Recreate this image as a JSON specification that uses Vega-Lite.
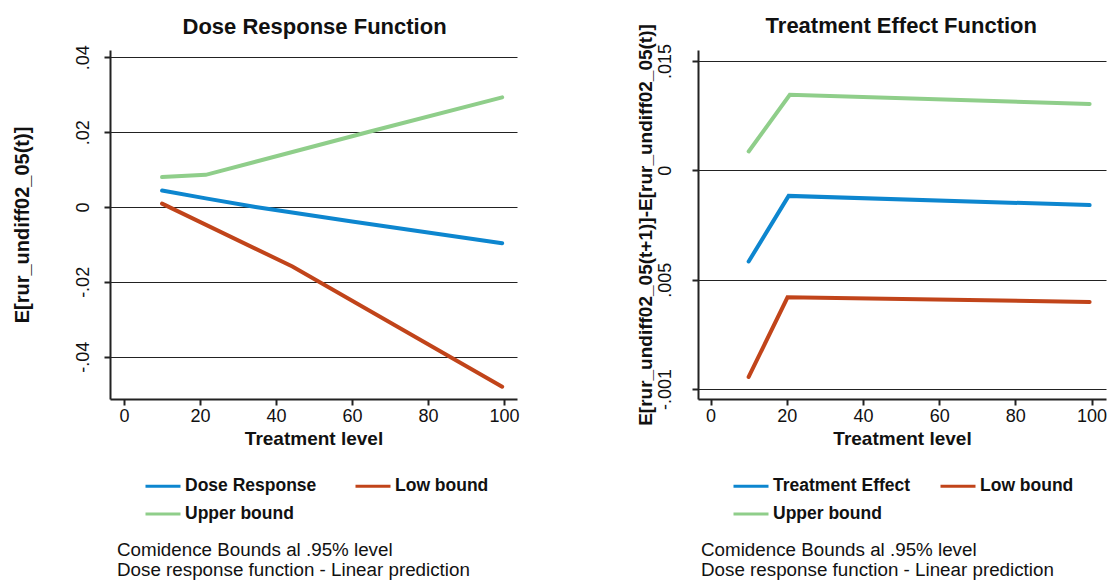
{
  "$schema": "https://vega.github.io/schema/vega-lite/v6.json",
  "background": "white",
  "padding": {"left": 12, "top": 14, "right": 4, "bottom": 2},
  "datasets": {
    "dose": [
      {"series": "Dose Response", "t": 10, "v": 0.0044},
      {"series": "Dose Response", "t": 21.5, "v": 0.0023},
      {"series": "Dose Response", "t": 34.6, "v": 0.0},
      {"series": "Dose Response", "t": 60, "v": -0.0039},
      {"series": "Dose Response", "t": 99.5, "v": -0.0097},
      {"series": "Low bound", "t": 10, "v": 0.0009},
      {"series": "Low bound", "t": 44.3, "v": -0.0159},
      {"series": "Low bound", "t": 99.5, "v": -0.048},
      {"series": "Upper bound", "t": 10, "v": 0.0080},
      {"series": "Upper bound", "t": 21.5, "v": 0.0086},
      {"series": "Upper bound", "t": 64.5, "v": 0.0201},
      {"series": "Upper bound", "t": 99.5, "v": 0.0293}
    ],
    "effect": [
      {"series": "Treatment Effect", "t": 10, "v": 0.00583},
      {"series": "Treatment Effect", "t": 20.5, "v": 0.00883},
      {"series": "Treatment Effect", "t": 99.5, "v": 0.00841},
      {"series": "Low bound", "t": 10, "v": 0.00055},
      {"series": "Low bound", "t": 20.2, "v": 0.00419},
      {"series": "Low bound", "t": 99.5, "v": 0.00398},
      {"series": "Upper bound", "t": 10, "v": 0.01086},
      {"series": "Upper bound", "t": 20.8, "v": 0.01345},
      {"series": "Upper bound", "t": 99.5, "v": 0.01303}
    ]
  },
  "config": {
    "font": "Liberation Sans, Arial, sans-serif",
    "view": {"stroke": null},
    "axis": {
      "domainColor": "#222",
      "domainWidth": 2,
      "tickColor": "#222",
      "tickWidth": 2,
      "tickSize": 6,
      "labelFont": "Liberation Sans, Arial, sans-serif",
      "labelFontSize": 18,
      "labelColor": "#111",
      "titleFont": "Liberation Sans, Arial, sans-serif",
      "titleFontSize": 19,
      "titleFontWeight": "bold",
      "titleColor": "#111",
      "gridColor": "#222",
      "gridWidth": 1
    },
    "legend": {
      "orient": "none",
      "legendX": 34,
      "legendY": 417,
      "direction": "horizontal",
      "columns": 2,
      "title": null,
      "symbolType": "stroke",
      "symbolSize": 1225,
      "symbolStrokeWidth": 3,
      "labelFont": "Liberation Sans, Arial, sans-serif",
      "labelFontSize": 17.5,
      "labelFontWeight": "bold",
      "labelColor": "#111",
      "labelOffset": 3,
      "labelLimit": 400,
      "columnPadding": 32,
      "rowPadding": -8
    },
    "title": {
      "font": "Liberation Sans, Arial, sans-serif",
      "fontSize": 22,
      "fontWeight": "bold",
      "color": "#111"
    },
    "concat": {"spacing": 115}
  },
  "hconcat": [
    {
      "title": {"text": "Dose Response Function", "anchor": "middle", "dx": 49, "offset": 6},
      "vconcat": [
        {
          "title": {
            "text": ["Comidence Bounds al .95% level", "Dose response function - Linear prediction"],
            "orient": "bottom",
            "anchor": "start",
            "frame": "group",
            "fontSize": 18.8,
            "fontWeight": "normal",
            "lineHeight": 20,
            "dx": 7,
            "offset": 18
          },
          "width": 407,
          "height": 349,
          "data": {"name": "dose"},
          "mark": {"type": "line", "strokeWidth": 4, "strokeCap": "round"},
          "encoding": {
            "x": {
              "field": "t", "type": "quantitative",
              "scale": {"domain": [-3.7, 103.4], "nice": false, "zero": false},
              "axis": {"values": [0, 20, 40, 60, 80, 100], "grid": false, "title": "Treatment level", "labelPadding": 2, "titlePadding": 4}
            },
            "y": {
              "field": "v", "type": "quantitative",
              "scale": {"domain": [-0.0513, 0.04195], "nice": false, "zero": false},
              "axis": {
                "values": [-0.04, -0.02, 0, 0.02, 0.04],
                "labelExpr": "datum.value == 0 ? '0' : replace(replace(format(datum.value, '.2f'), '0.', '.'), '\u2212', '-')",
                "labelAngle": 270,
                "labelAlign": "center",
                "labelBaseline": "bottom",
                "labelPadding": 12,
                "grid": true,
                "title": "E[rur_undiff02_05(t)]",
                "titleFontSize": 20,
                "titlePadding": 42
              }
            },
            "color": {
              "field": "series", "type": "nominal",
              "scale": {"domain": ["Dose Response", "Low bound", "Upper bound"], "range": ["#0d86cf", "#c1441a", "#8fce8a"]},
              "legend": {"columnPadding": 32}
            }
          }
        }
      ],
      "resolve": {"scale": {"color": "independent"}, "legend": {"color": "independent"}}
    },
    {
      "title": {"text": "Treatment Effect Function", "anchor": "middle", "dx": 30, "offset": -14},
      "vconcat": [
        {
          "title": {
            "text": ["Comidence Bounds al .95% level", "Dose response function - Linear prediction"],
            "orient": "bottom",
            "anchor": "start",
            "frame": "group",
            "fontSize": 18.8,
            "fontWeight": "normal",
            "lineHeight": 20,
            "dx": 3,
            "offset": 18
          },
          "width": 408,
          "height": 349,
          "data": {"name": "effect"},
          "mark": {"type": "line", "strokeWidth": 4, "strokeCap": "round"},
          "encoding": {
            "x": {
              "field": "t", "type": "quantitative",
              "scale": {"domain": [-3.3, 103.8], "nice": false, "zero": false},
              "axis": {"values": [0, 20, 40, 60, 80, 100], "grid": false, "title": "Treatment level", "labelPadding": 2, "titlePadding": 4}
            },
            "y": {
              "field": "v", "type": "quantitative",
              "scale": {"domain": [-0.000457, 0.0155], "nice": false, "zero": false},
              "axis": {
                "values": [0, 0.005, 0.01, 0.015],
                "labelExpr": "datum.value > 0.012 ? '.015' : datum.value > 0.007 ? '0' : datum.value > 0.002 ? '.005' : '-.001'",
                "labelAngle": 270,
                "labelAlign": "center",
                "labelBaseline": "bottom",
                "labelPadding": 18,
                "grid": true,
                "title": "E[rur_undiff02_05(t+1)]-E[rur_undiff02_05(t)]",
                "titleFontSize": 19,
                "titlePadding": 1
              }
            },
            "color": {
              "field": "series", "type": "nominal",
              "scale": {"domain": ["Treatment Effect", "Low bound", "Upper bound"], "range": ["#0d86cf", "#c1441a", "#8fce8a"]},
              "legend": {"columnPadding": 23}
            }
          }
        }
      ],
      "resolve": {"scale": {"color": "independent"}, "legend": {"color": "independent"}}
    }
  ],
  "resolve": {"scale": {"color": "independent", "y": "independent", "x": "independent"}, "legend": {"color": "independent"}}
}
